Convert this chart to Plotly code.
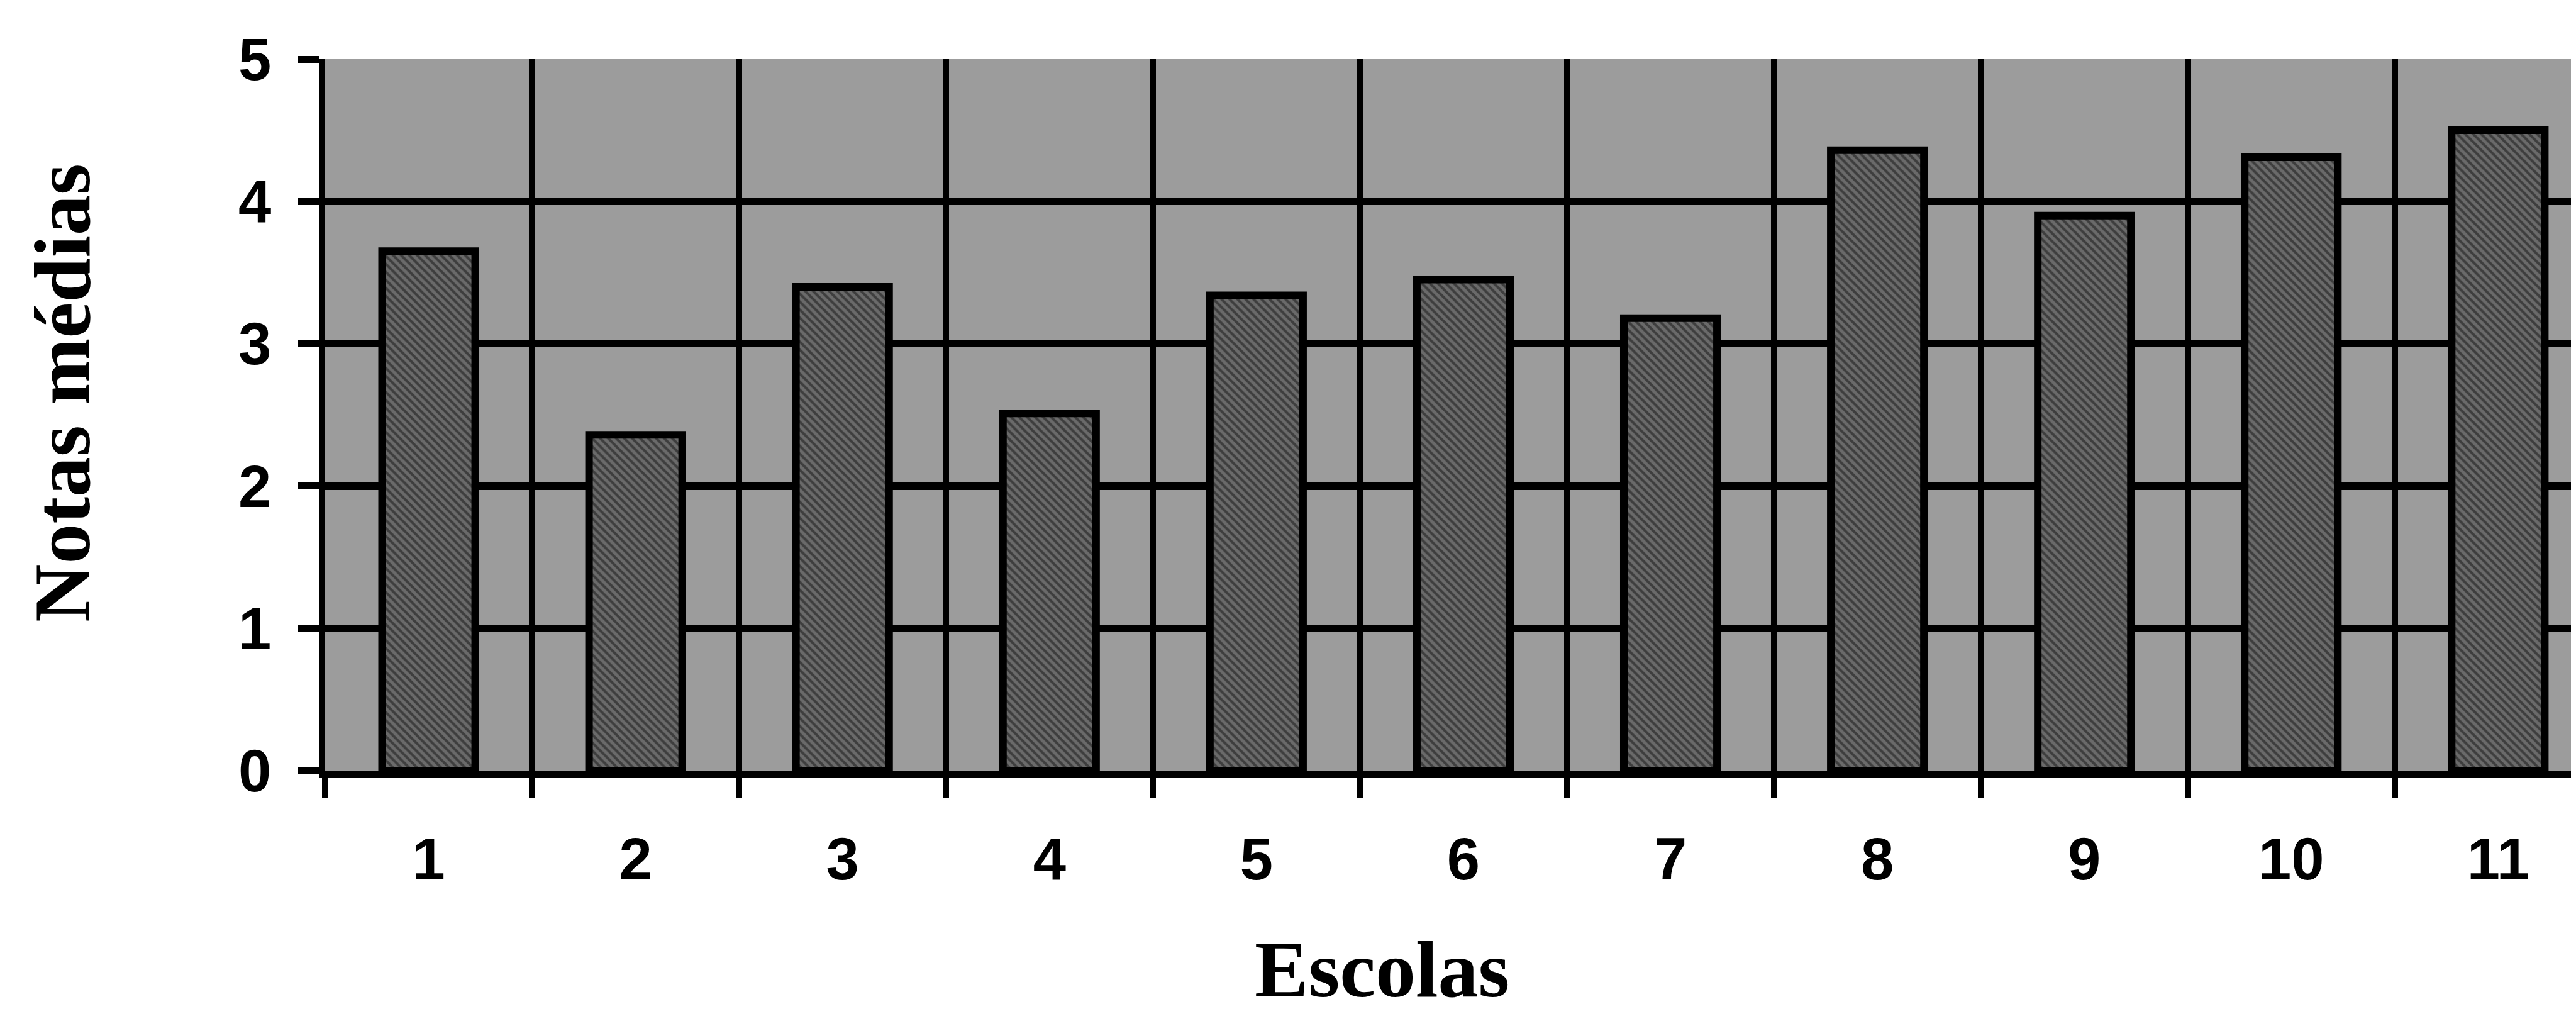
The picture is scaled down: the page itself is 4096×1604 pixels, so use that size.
import plotly.graph_objects as go

# Data
escolas = ["1", "2", "3", "4", "5", "6", "7", "8", "9", "10", "11"]
notas = [3.65, 2.36, 3.40, 2.51, 3.34, 3.45, 3.18, 4.36, 3.90, 4.31, 4.50]
y_ticks = [0, 1, 2, 3, 4, 5]
y_grid = [1, 2, 3, 4]
x_title = "Escolas"
y_title = "Notas médias"

W, H = 4096, 1604
ML, MR, MT, MB = 509, 0, 86, 387
PW = W - ML - MR
PH = H - MT - MB

tick_font = dict(family="Liberation Sans, Arial, sans-serif", size=94, color="black", weight="bold")
title_font = dict(family="Liberation Serif, Times New Roman, serif", size=128, color="black", weight="bold")

fig = go.Figure()
fig.add_trace(go.Bar(
    x=escolas, y=notas,
    marker=dict(
        color="#4e4e4e",
        line=dict(color="black", width=12),
        pattern=dict(shape="\\", fgcolor="#111111", bgcolor="#6a6a6a", size=9, solidity=0.45),
    ),
    showlegend=False,
))

fig.update_layout(
    width=W, height=H,
    margin=dict(l=ML, r=MR, t=MT, b=MB, pad=0),
    paper_bgcolor="white",
    plot_bgcolor="#9c9c9c",
    bargap=0.55,
    xaxis=dict(
        type="category",
        range=[-0.5, 10.4],
        tickson="boundaries",
        showgrid=True, gridcolor="black", gridwidth=10,
        ticks="outside", ticklen=32, tickwidth=10, tickcolor="black",
        showline=True, linecolor="black", linewidth=12,
        tickfont=tick_font,
        ticklabelstandoff=48,
        fixedrange=True,
    ),
    yaxis=dict(
        range=[0, 5],
        tickvals=y_ticks,
        showgrid=False, zeroline=False,
        ticks="outside", ticklen=33, tickwidth=11, tickcolor="black",
        showline=True, linecolor="black", linewidth=10,
        tickfont=tick_font,
        ticklabelstandoff=24,
        minor=dict(tickvals=y_grid, showgrid=True, gridcolor="black", gridwidth=12, ticks=""),
        fixedrange=True,
    ),
    annotations=[
        dict(text=y_title, xref="paper", yref="paper",
             x=(91 - ML) / PW, y=(H - MB - 617) / PH,
             xanchor="center", yanchor="middle", textangle=-90,
             showarrow=False, font=title_font),
        dict(text=x_title, xref="paper", yref="paper",
             x=(2189 - ML) / PW, y=(H - MB - 1606) / PH,
             xanchor="center", yanchor="bottom",
             showarrow=False, font=title_font),
    ],
)

fig.write_html("out.html")
